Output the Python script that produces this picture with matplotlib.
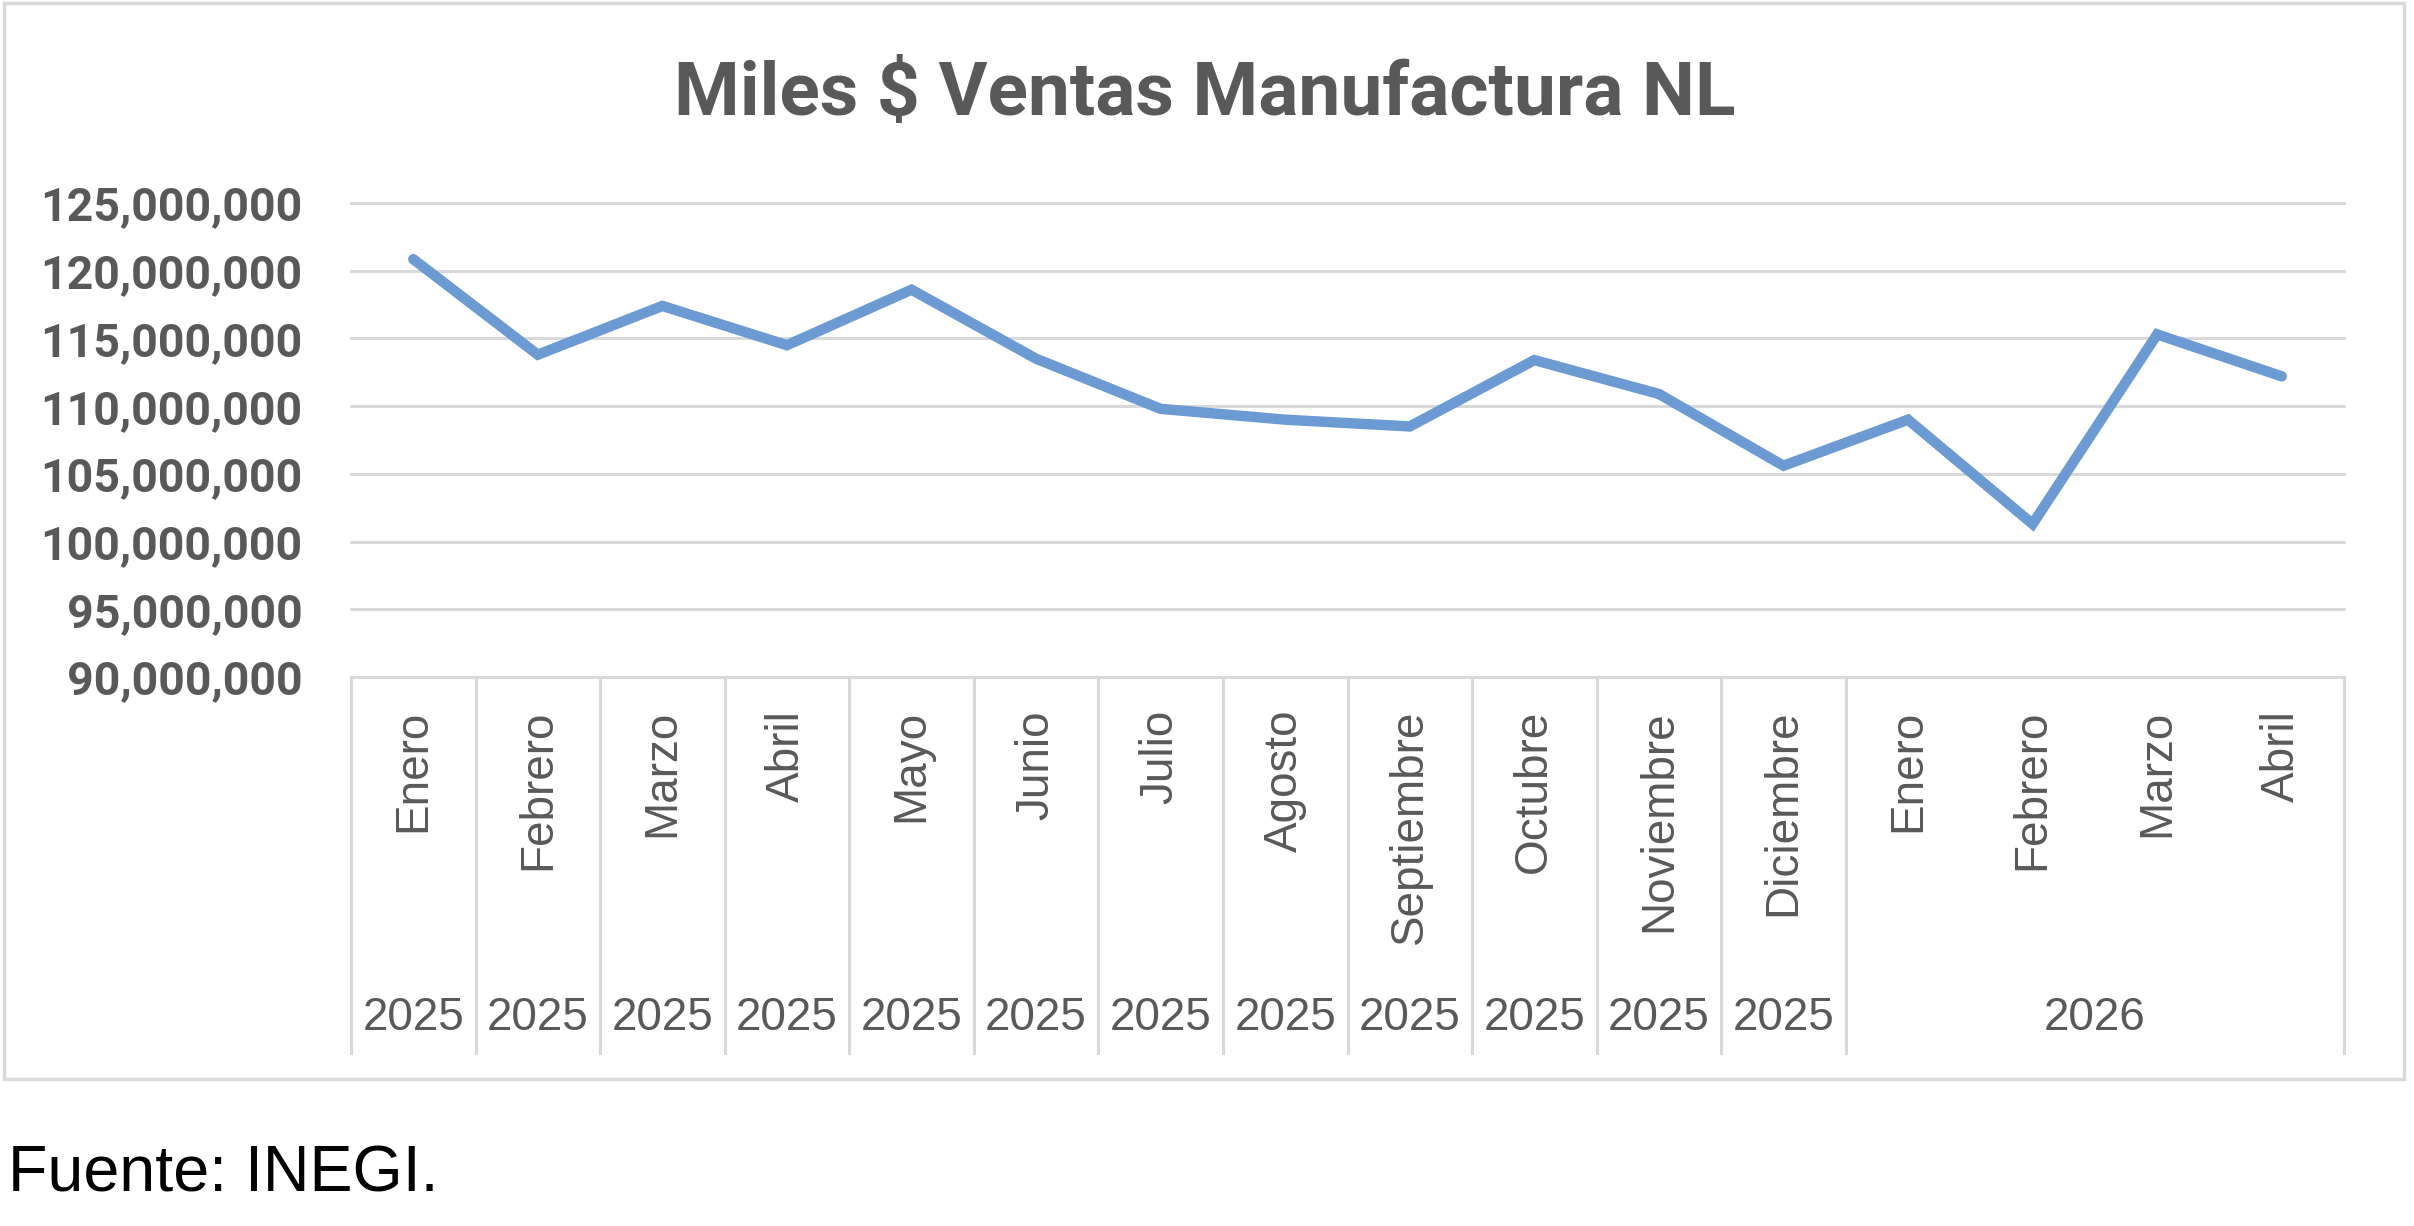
import matplotlib
matplotlib.use("Agg")
import matplotlib.pyplot as plt
from matplotlib.patches import Rectangle

# ---- data ----
months = ["Enero", "Febrero", "Marzo", "Abril", "Mayo", "Junio", "Julio", "Agosto",
          "Septiembre", "Octubre", "Noviembre", "Diciembre", "Enero", "Febrero", "Marzo", "Abril"]
years = ["2025"] * 12 + ["2026"] * 4
values = [120.85e6, 113.8e6, 117.4e6, 114.5e6, 118.6e6, 113.5e6, 109.8e6, 109.0e6,
          108.5e6, 113.4e6, 110.9e6, 105.6e6, 109.0e6, 101.3e6, 115.3e6, 112.2e6]
yticks = [90e6, 95e6, 100e6, 105e6, 110e6, 115e6, 120e6, 125e6]
title = "Miles $ Ventas Manufactura NL"
source = "Fuente: INEGI."

W, H = 2414, 1226
DPI = 100
GRID = "#d9d9d9"
TXT = "#595959"
LINE = "#6b9bd2"

fig = plt.figure(figsize=(W / DPI, H / DPI), dpi=DPI)

# plot area in pixels
left, right, top, bottom = 351, 2344, 203, 677
ax = fig.add_axes([left / W, 1 - bottom / H, (right - left) / W, (bottom - top) / H])

n = len(values)
xs = [i + 0.5 for i in range(n)]
ax.set_xlim(0, n)
ax.set_ylim(yticks[0], yticks[-1])

for t in yticks:
    ax.axhline(t, color=GRID, lw=2.2, zorder=1, clip_on=False)

ax.plot(xs, values, color=LINE, lw=7.5, solid_capstyle="round", solid_joinstyle="miter", zorder=3)

for s in ax.spines.values():
    s.set_visible(False)
ax.set_xticks([])
ax.set_yticks(yticks)
ax.set_yticklabels([f"{int(t):,}" for t in yticks], fontsize=33.5, fontweight="bold",
                   color=TXT, family=["Roboto", "DejaVu Sans"])
ax.tick_params(axis="y", length=0, pad=35)

ph = bottom - top
tr = ax.get_xaxis_transform()

# category separators
groups_bounds = []
prev = None
for i, y in enumerate(years):
    if y == "2025" or y != prev:
        groups_bounds.append(i)
    prev = y
groups_bounds.append(n)
sep_bottom = -(1053 - bottom) / ph
for b in groups_bounds:
    ax.plot([b, b], [0, sep_bottom], transform=tr, color=GRID, lw=2.2, clip_on=False, zorder=1)

# month labels
for x, m in zip(xs, months):
    ax.text(x, -(710 - bottom) / ph, m, transform=tr, rotation=90, ha="center", va="top",
            fontsize=33, color=TXT, family=["Liberation Sans", "DejaVu Sans"])

# year labels
for gi in range(len(groups_bounds) - 1):
    a, b = groups_bounds[gi], groups_bounds[gi + 1]
    ax.text((a + b) / 2, -(1018 - bottom) / ph, years[a], transform=tr, ha="center", va="center",
            fontsize=33, color=TXT, family=["Liberation Sans", "DejaVu Sans"])

# title
fig.text(1205 / W, 1 - 115 / H, title, ha="center", va="baseline", fontsize=54,
         fontweight="bold", color=TXT, family=["Roboto", "DejaVu Sans"])

# chart border
fig.patches.append(Rectangle((4 / W, 1 - 1079 / H), (2404 - 4) / W, (1079 - 3) / H,
                             transform=fig.transFigure, fill=False, edgecolor=GRID, lw=2.5))

# source
fig.text(8 / W, 1 - 1192 / H, source, ha="left", va="baseline", fontsize=46.5, color="black",
         family=["Liberation Sans", "DejaVu Sans"])

fig.savefig("out.png", dpi=DPI)
